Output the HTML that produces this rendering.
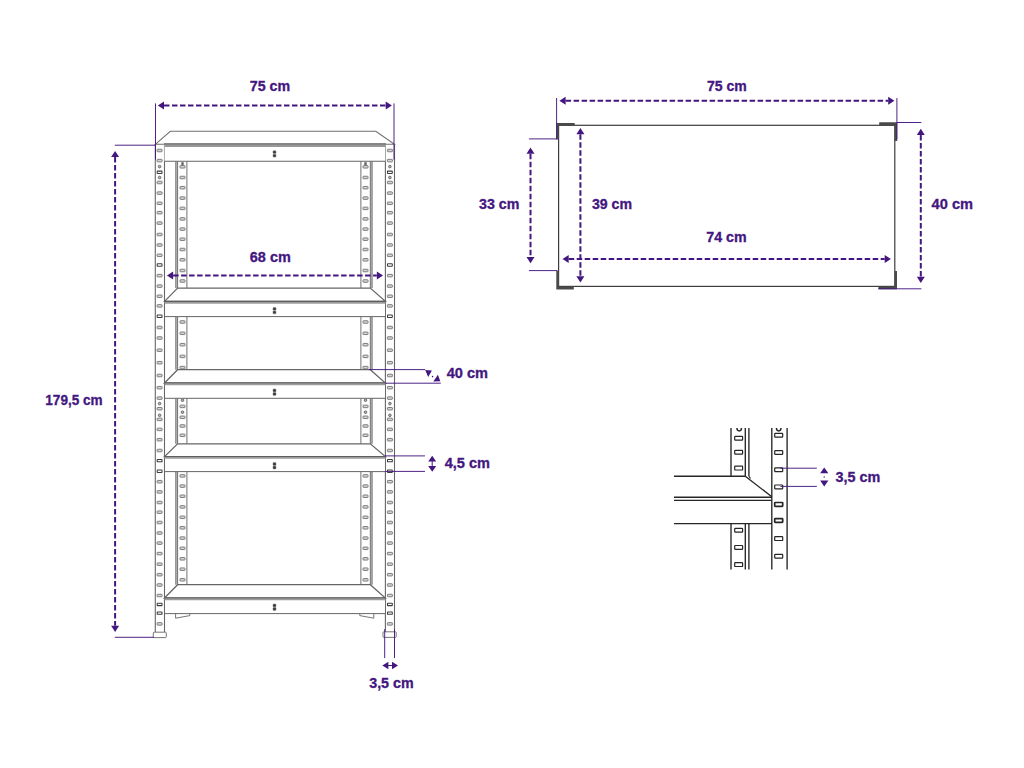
<!DOCTYPE html>
<html><head><meta charset="utf-8"><title>Shelf dimensions</title>
<style>
html,body{margin:0;padding:0;background:#fff;}
body{width:1024px;height:768px;overflow:hidden;font-family:"Liberation Sans",sans-serif;}
svg{display:block;}
svg text{font-family:"Liberation Sans",sans-serif;}
</style></head><body>
<svg width="1024" height="768" viewBox="0 0 1024 768">
<rect width="1024" height="768" fill="#fff"/>
<rect x="175.8" y="161.25" width="1.799999999999983" height="126.85000000000002" fill="#c4c4c4"/>
<rect x="370.3" y="161.25" width="1.8000000000000114" height="126.85000000000002" fill="#c4c4c4"/>
<line x1="175.8" y1="161.25" x2="175.8" y2="288.1" stroke="#707070" stroke-width="1.0" />
<line x1="177.6" y1="161.25" x2="177.6" y2="288.1" stroke="#707070" stroke-width="1.0" />
<line x1="186.9" y1="161.25" x2="186.9" y2="288.1" stroke="#707070" stroke-width="1.0" />
<line x1="360.9" y1="161.25" x2="360.9" y2="288.1" stroke="#707070" stroke-width="1.0" />
<line x1="370.3" y1="161.25" x2="370.3" y2="288.1" stroke="#707070" stroke-width="1.0" />
<line x1="372.1" y1="161.25" x2="372.1" y2="288.1" stroke="#707070" stroke-width="1.0" />
<rect x="175.8" y="316.6" width="1.799999999999983" height="53.099999999999966" fill="#c4c4c4"/>
<rect x="370.3" y="316.6" width="1.8000000000000114" height="53.099999999999966" fill="#c4c4c4"/>
<line x1="175.8" y1="316.6" x2="175.8" y2="369.7" stroke="#707070" stroke-width="1.0" />
<line x1="177.6" y1="316.6" x2="177.6" y2="369.7" stroke="#707070" stroke-width="1.0" />
<line x1="186.9" y1="316.6" x2="186.9" y2="369.7" stroke="#707070" stroke-width="1.0" />
<line x1="360.9" y1="316.6" x2="360.9" y2="369.7" stroke="#707070" stroke-width="1.0" />
<line x1="370.3" y1="316.6" x2="370.3" y2="369.7" stroke="#707070" stroke-width="1.0" />
<line x1="372.1" y1="316.6" x2="372.1" y2="369.7" stroke="#707070" stroke-width="1.0" />
<rect x="175.8" y="398.3" width="1.799999999999983" height="45.5" fill="#c4c4c4"/>
<rect x="370.3" y="398.3" width="1.8000000000000114" height="45.5" fill="#c4c4c4"/>
<line x1="175.8" y1="398.3" x2="175.8" y2="443.8" stroke="#707070" stroke-width="1.0" />
<line x1="177.6" y1="398.3" x2="177.6" y2="443.8" stroke="#707070" stroke-width="1.0" />
<line x1="186.9" y1="398.3" x2="186.9" y2="443.8" stroke="#707070" stroke-width="1.0" />
<line x1="360.9" y1="398.3" x2="360.9" y2="443.8" stroke="#707070" stroke-width="1.0" />
<line x1="370.3" y1="398.3" x2="370.3" y2="443.8" stroke="#707070" stroke-width="1.0" />
<line x1="372.1" y1="398.3" x2="372.1" y2="443.8" stroke="#707070" stroke-width="1.0" />
<rect x="175.8" y="471.6" width="1.799999999999983" height="113.10000000000002" fill="#c4c4c4"/>
<rect x="370.3" y="471.6" width="1.8000000000000114" height="113.10000000000002" fill="#c4c4c4"/>
<line x1="175.8" y1="471.6" x2="175.8" y2="584.7" stroke="#707070" stroke-width="1.0" />
<line x1="177.6" y1="471.6" x2="177.6" y2="584.7" stroke="#707070" stroke-width="1.0" />
<line x1="186.9" y1="471.6" x2="186.9" y2="584.7" stroke="#707070" stroke-width="1.0" />
<line x1="360.9" y1="471.6" x2="360.9" y2="584.7" stroke="#707070" stroke-width="1.0" />
<line x1="370.3" y1="471.6" x2="370.3" y2="584.7" stroke="#707070" stroke-width="1.0" />
<line x1="372.1" y1="471.6" x2="372.1" y2="584.7" stroke="#707070" stroke-width="1.0" />
<rect x="180.00" y="176.25" width="5.00" height="2.50" fill="#d6d6d6" stroke="#777" stroke-width="0.95" rx="0.5"/>
<rect x="363.00" y="176.25" width="5.00" height="2.50" fill="#d6d6d6" stroke="#777" stroke-width="0.95" rx="0.5"/>
<rect x="180.00" y="186.45" width="5.00" height="2.50" fill="#d6d6d6" stroke="#777" stroke-width="0.95" rx="0.5"/>
<rect x="363.00" y="186.45" width="5.00" height="2.50" fill="#d6d6d6" stroke="#777" stroke-width="0.95" rx="0.5"/>
<rect x="180.00" y="196.85" width="5.00" height="2.50" fill="#d6d6d6" stroke="#777" stroke-width="0.95" rx="0.5"/>
<rect x="363.00" y="196.85" width="5.00" height="2.50" fill="#d6d6d6" stroke="#777" stroke-width="0.95" rx="0.5"/>
<rect x="180.00" y="207.15" width="5.00" height="2.50" fill="#d6d6d6" stroke="#777" stroke-width="0.95" rx="0.5"/>
<rect x="363.00" y="207.15" width="5.00" height="2.50" fill="#d6d6d6" stroke="#777" stroke-width="0.95" rx="0.5"/>
<rect x="180.00" y="217.65" width="5.00" height="2.50" fill="#d6d6d6" stroke="#777" stroke-width="0.95" rx="0.5"/>
<rect x="363.00" y="217.65" width="5.00" height="2.50" fill="#d6d6d6" stroke="#777" stroke-width="0.95" rx="0.5"/>
<rect x="180.00" y="227.85" width="5.00" height="2.50" fill="#d6d6d6" stroke="#777" stroke-width="0.95" rx="0.5"/>
<rect x="363.00" y="227.85" width="5.00" height="2.50" fill="#d6d6d6" stroke="#777" stroke-width="0.95" rx="0.5"/>
<rect x="180.00" y="237.95" width="5.00" height="2.50" fill="#d6d6d6" stroke="#777" stroke-width="0.95" rx="0.5"/>
<rect x="363.00" y="237.95" width="5.00" height="2.50" fill="#d6d6d6" stroke="#777" stroke-width="0.95" rx="0.5"/>
<rect x="180.00" y="248.25" width="5.00" height="2.50" fill="#d6d6d6" stroke="#777" stroke-width="0.95" rx="0.5"/>
<rect x="363.00" y="248.25" width="5.00" height="2.50" fill="#d6d6d6" stroke="#777" stroke-width="0.95" rx="0.5"/>
<rect x="180.00" y="258.55" width="5.00" height="2.50" fill="#d6d6d6" stroke="#777" stroke-width="0.95" rx="0.5"/>
<rect x="363.00" y="258.55" width="5.00" height="2.50" fill="#d6d6d6" stroke="#777" stroke-width="0.95" rx="0.5"/>
<rect x="180.00" y="269.25" width="5.00" height="2.50" fill="#d6d6d6" stroke="#777" stroke-width="0.95" rx="0.5"/>
<rect x="363.00" y="269.25" width="5.00" height="2.50" fill="#d6d6d6" stroke="#777" stroke-width="0.95" rx="0.5"/>
<rect x="180.00" y="279.75" width="5.00" height="2.50" fill="#d6d6d6" stroke="#777" stroke-width="0.95" rx="0.5"/>
<rect x="363.00" y="279.75" width="5.00" height="2.50" fill="#d6d6d6" stroke="#777" stroke-width="0.95" rx="0.5"/>
<rect x="180.00" y="320.75" width="5.00" height="2.50" fill="#d6d6d6" stroke="#777" stroke-width="0.95" rx="0.5"/>
<rect x="363.00" y="320.75" width="5.00" height="2.50" fill="#d6d6d6" stroke="#777" stroke-width="0.95" rx="0.5"/>
<rect x="180.00" y="332.05" width="5.00" height="2.50" fill="#d6d6d6" stroke="#777" stroke-width="0.95" rx="0.5"/>
<rect x="363.00" y="332.05" width="5.00" height="2.50" fill="#d6d6d6" stroke="#777" stroke-width="0.95" rx="0.5"/>
<rect x="180.00" y="343.45" width="5.00" height="2.50" fill="#d6d6d6" stroke="#777" stroke-width="0.95" rx="0.5"/>
<rect x="363.00" y="343.45" width="5.00" height="2.50" fill="#d6d6d6" stroke="#777" stroke-width="0.95" rx="0.5"/>
<rect x="180.00" y="355.15" width="5.00" height="2.50" fill="#d6d6d6" stroke="#777" stroke-width="0.95" rx="0.5"/>
<rect x="363.00" y="355.15" width="5.00" height="2.50" fill="#d6d6d6" stroke="#777" stroke-width="0.95" rx="0.5"/>
<rect x="180.00" y="366.35" width="5.00" height="2.50" fill="#d6d6d6" stroke="#777" stroke-width="0.95" rx="0.5"/>
<rect x="363.00" y="366.35" width="5.00" height="2.50" fill="#d6d6d6" stroke="#777" stroke-width="0.95" rx="0.5"/>
<rect x="180.00" y="405.15" width="5.00" height="2.50" fill="#d6d6d6" stroke="#777" stroke-width="0.95" rx="0.5"/>
<rect x="363.00" y="405.15" width="5.00" height="2.50" fill="#d6d6d6" stroke="#777" stroke-width="0.95" rx="0.5"/>
<rect x="180.00" y="416.05" width="5.00" height="2.50" fill="#d6d6d6" stroke="#777" stroke-width="0.95" rx="0.5"/>
<rect x="363.00" y="416.05" width="5.00" height="2.50" fill="#d6d6d6" stroke="#777" stroke-width="0.95" rx="0.5"/>
<rect x="180.00" y="424.75" width="5.00" height="2.50" fill="#d6d6d6" stroke="#777" stroke-width="0.95" rx="0.5"/>
<rect x="363.00" y="424.75" width="5.00" height="2.50" fill="#d6d6d6" stroke="#777" stroke-width="0.95" rx="0.5"/>
<rect x="180.00" y="434.05" width="5.00" height="2.50" fill="#d6d6d6" stroke="#777" stroke-width="0.95" rx="0.5"/>
<rect x="363.00" y="434.05" width="5.00" height="2.50" fill="#d6d6d6" stroke="#777" stroke-width="0.95" rx="0.5"/>
<rect x="180.00" y="474.65" width="5.00" height="2.50" fill="#d6d6d6" stroke="#777" stroke-width="0.95" rx="0.5"/>
<rect x="363.00" y="474.65" width="5.00" height="2.50" fill="#d6d6d6" stroke="#777" stroke-width="0.95" rx="0.5"/>
<rect x="180.00" y="484.85" width="5.00" height="2.50" fill="#d6d6d6" stroke="#777" stroke-width="0.95" rx="0.5"/>
<rect x="363.00" y="484.85" width="5.00" height="2.50" fill="#d6d6d6" stroke="#777" stroke-width="0.95" rx="0.5"/>
<rect x="180.00" y="495.00" width="5.00" height="2.50" fill="#d6d6d6" stroke="#777" stroke-width="0.95" rx="0.5"/>
<rect x="363.00" y="495.00" width="5.00" height="2.50" fill="#d6d6d6" stroke="#777" stroke-width="0.95" rx="0.5"/>
<rect x="180.00" y="505.65" width="5.00" height="2.50" fill="#d6d6d6" stroke="#777" stroke-width="0.95" rx="0.5"/>
<rect x="363.00" y="505.65" width="5.00" height="2.50" fill="#d6d6d6" stroke="#777" stroke-width="0.95" rx="0.5"/>
<rect x="180.00" y="516.05" width="5.00" height="2.50" fill="#d6d6d6" stroke="#777" stroke-width="0.95" rx="0.5"/>
<rect x="363.00" y="516.05" width="5.00" height="2.50" fill="#d6d6d6" stroke="#777" stroke-width="0.95" rx="0.5"/>
<rect x="180.00" y="526.55" width="5.00" height="2.50" fill="#d6d6d6" stroke="#777" stroke-width="0.95" rx="0.5"/>
<rect x="363.00" y="526.55" width="5.00" height="2.50" fill="#d6d6d6" stroke="#777" stroke-width="0.95" rx="0.5"/>
<rect x="180.00" y="536.85" width="5.00" height="2.50" fill="#d6d6d6" stroke="#777" stroke-width="0.95" rx="0.5"/>
<rect x="363.00" y="536.85" width="5.00" height="2.50" fill="#d6d6d6" stroke="#777" stroke-width="0.95" rx="0.5"/>
<rect x="180.00" y="547.05" width="5.00" height="2.50" fill="#d6d6d6" stroke="#777" stroke-width="0.95" rx="0.5"/>
<rect x="363.00" y="547.05" width="5.00" height="2.50" fill="#d6d6d6" stroke="#777" stroke-width="0.95" rx="0.5"/>
<rect x="180.00" y="557.55" width="5.00" height="2.50" fill="#d6d6d6" stroke="#777" stroke-width="0.95" rx="0.5"/>
<rect x="363.00" y="557.55" width="5.00" height="2.50" fill="#d6d6d6" stroke="#777" stroke-width="0.95" rx="0.5"/>
<rect x="180.00" y="567.95" width="5.00" height="2.50" fill="#d6d6d6" stroke="#777" stroke-width="0.95" rx="0.5"/>
<rect x="363.00" y="567.95" width="5.00" height="2.50" fill="#d6d6d6" stroke="#777" stroke-width="0.95" rx="0.5"/>
<rect x="180.00" y="578.55" width="5.00" height="2.50" fill="#d6d6d6" stroke="#777" stroke-width="0.95" rx="0.5"/>
<rect x="363.00" y="578.55" width="5.00" height="2.50" fill="#d6d6d6" stroke="#777" stroke-width="0.95" rx="0.5"/>
<circle cx="182.5" cy="400.2" r="1.3" fill="#b5b5b5" stroke="#5a5a5a" stroke-width="0.85"/>
<circle cx="365.5" cy="400.2" r="1.3" fill="#b5b5b5" stroke="#5a5a5a" stroke-width="0.85"/>
<circle cx="182.5" cy="412.2" r="1.3" fill="#b5b5b5" stroke="#5a5a5a" stroke-width="0.85"/>
<circle cx="365.5" cy="412.2" r="1.3" fill="#b5b5b5" stroke="#5a5a5a" stroke-width="0.85"/>
<rect x="180.00" y="165.55" width="5.00" height="2.50" fill="#d6d6d6" stroke="#777" stroke-width="0.95" rx="0.5"/>
<rect x="181.50" y="162.30" width="2.00" height="2.60" fill="#666" stroke="#666" stroke-width="0.4" rx="0.5"/>
<rect x="363.00" y="165.55" width="5.00" height="2.50" fill="#d6d6d6" stroke="#777" stroke-width="0.95" rx="0.5"/>
<rect x="364.50" y="162.30" width="2.00" height="2.60" fill="#666" stroke="#666" stroke-width="0.4" rx="0.5"/>
<line x1="155.3" y1="145.0" x2="155.3" y2="632.0" stroke="#666" stroke-width="1.1" />
<line x1="164.5" y1="145.0" x2="164.5" y2="632.0" stroke="#666" stroke-width="1.1" />
<line x1="385.4" y1="145.0" x2="385.4" y2="632.0" stroke="#666" stroke-width="1.1" />
<line x1="394.5" y1="145.0" x2="394.5" y2="632.0" stroke="#666" stroke-width="1.1" />
<rect x="157.10" y="149.25" width="5.00" height="2.50" fill="#d6d6d6" stroke="#777" stroke-width="0.95" rx="0.5"/>
<rect x="387.40" y="149.25" width="5.00" height="2.50" fill="#d6d6d6" stroke="#777" stroke-width="0.95" rx="0.5"/>
<rect x="157.10" y="159.35" width="5.00" height="2.50" fill="#d6d6d6" stroke="#777" stroke-width="0.95" rx="0.5"/>
<rect x="387.40" y="159.35" width="5.00" height="2.50" fill="#d6d6d6" stroke="#777" stroke-width="0.95" rx="0.5"/>
<rect x="157.10" y="181.25" width="5.00" height="2.50" fill="#d6d6d6" stroke="#777" stroke-width="0.95" rx="0.5"/>
<rect x="387.40" y="181.25" width="5.00" height="2.50" fill="#d6d6d6" stroke="#777" stroke-width="0.95" rx="0.5"/>
<rect x="157.10" y="191.85" width="5.00" height="2.50" fill="#d6d6d6" stroke="#777" stroke-width="0.95" rx="0.5"/>
<rect x="387.40" y="191.85" width="5.00" height="2.50" fill="#d6d6d6" stroke="#777" stroke-width="0.95" rx="0.5"/>
<rect x="157.10" y="202.05" width="5.00" height="2.50" fill="#d6d6d6" stroke="#777" stroke-width="0.95" rx="0.5"/>
<rect x="387.40" y="202.05" width="5.00" height="2.50" fill="#d6d6d6" stroke="#777" stroke-width="0.95" rx="0.5"/>
<rect x="157.10" y="211.45" width="5.00" height="2.50" fill="#d6d6d6" stroke="#777" stroke-width="0.95" rx="0.5"/>
<rect x="387.40" y="211.45" width="5.00" height="2.50" fill="#d6d6d6" stroke="#777" stroke-width="0.95" rx="0.5"/>
<rect x="157.10" y="221.85" width="5.00" height="2.50" fill="#d6d6d6" stroke="#777" stroke-width="0.95" rx="0.5"/>
<rect x="387.40" y="221.85" width="5.00" height="2.50" fill="#d6d6d6" stroke="#777" stroke-width="0.95" rx="0.5"/>
<rect x="157.10" y="233.25" width="5.00" height="2.50" fill="#d6d6d6" stroke="#777" stroke-width="0.95" rx="0.5"/>
<rect x="387.40" y="233.25" width="5.00" height="2.50" fill="#d6d6d6" stroke="#777" stroke-width="0.95" rx="0.5"/>
<rect x="157.10" y="243.75" width="5.00" height="2.50" fill="#d6d6d6" stroke="#777" stroke-width="0.95" rx="0.5"/>
<rect x="387.40" y="243.75" width="5.00" height="2.50" fill="#d6d6d6" stroke="#777" stroke-width="0.95" rx="0.5"/>
<rect x="157.10" y="254.05" width="5.00" height="2.50" fill="#d6d6d6" stroke="#777" stroke-width="0.95" rx="0.5"/>
<rect x="387.40" y="254.05" width="5.00" height="2.50" fill="#d6d6d6" stroke="#777" stroke-width="0.95" rx="0.5"/>
<rect x="157.10" y="274.35" width="5.00" height="2.50" fill="#d6d6d6" stroke="#777" stroke-width="0.95" rx="0.5"/>
<rect x="387.40" y="274.35" width="5.00" height="2.50" fill="#d6d6d6" stroke="#777" stroke-width="0.95" rx="0.5"/>
<rect x="157.10" y="284.85" width="5.00" height="2.50" fill="#d6d6d6" stroke="#777" stroke-width="0.95" rx="0.5"/>
<rect x="387.40" y="284.85" width="5.00" height="2.50" fill="#d6d6d6" stroke="#777" stroke-width="0.95" rx="0.5"/>
<rect x="157.10" y="295.00" width="5.00" height="2.50" fill="#d6d6d6" stroke="#777" stroke-width="0.95" rx="0.5"/>
<rect x="387.40" y="295.00" width="5.00" height="2.50" fill="#d6d6d6" stroke="#777" stroke-width="0.95" rx="0.5"/>
<rect x="157.10" y="304.65" width="5.00" height="2.50" fill="#d6d6d6" stroke="#777" stroke-width="0.95" rx="0.5"/>
<rect x="387.40" y="304.65" width="5.00" height="2.50" fill="#d6d6d6" stroke="#777" stroke-width="0.95" rx="0.5"/>
<rect x="157.10" y="326.25" width="5.00" height="2.50" fill="#d6d6d6" stroke="#777" stroke-width="0.95" rx="0.5"/>
<rect x="387.40" y="326.25" width="5.00" height="2.50" fill="#d6d6d6" stroke="#777" stroke-width="0.95" rx="0.5"/>
<rect x="157.10" y="336.75" width="5.00" height="2.50" fill="#d6d6d6" stroke="#777" stroke-width="0.95" rx="0.5"/>
<rect x="387.40" y="336.75" width="5.00" height="2.50" fill="#d6d6d6" stroke="#777" stroke-width="0.95" rx="0.5"/>
<rect x="157.10" y="348.95" width="5.00" height="2.50" fill="#d6d6d6" stroke="#777" stroke-width="0.95" rx="0.5"/>
<rect x="387.40" y="348.95" width="5.00" height="2.50" fill="#d6d6d6" stroke="#777" stroke-width="0.95" rx="0.5"/>
<rect x="157.10" y="361.45" width="5.00" height="2.50" fill="#d6d6d6" stroke="#777" stroke-width="0.95" rx="0.5"/>
<rect x="387.40" y="361.45" width="5.00" height="2.50" fill="#d6d6d6" stroke="#777" stroke-width="0.95" rx="0.5"/>
<rect x="157.10" y="374.25" width="5.00" height="2.50" fill="#d6d6d6" stroke="#777" stroke-width="0.95" rx="0.5"/>
<rect x="387.40" y="374.25" width="5.00" height="2.50" fill="#d6d6d6" stroke="#777" stroke-width="0.95" rx="0.5"/>
<rect x="157.10" y="386.45" width="5.00" height="2.50" fill="#d6d6d6" stroke="#777" stroke-width="0.95" rx="0.5"/>
<rect x="387.40" y="386.45" width="5.00" height="2.50" fill="#d6d6d6" stroke="#777" stroke-width="0.95" rx="0.5"/>
<rect x="157.10" y="396.85" width="5.00" height="2.50" fill="#d6d6d6" stroke="#777" stroke-width="0.95" rx="0.5"/>
<rect x="387.40" y="396.85" width="5.00" height="2.50" fill="#d6d6d6" stroke="#777" stroke-width="0.95" rx="0.5"/>
<rect x="157.10" y="407.50" width="5.00" height="2.50" fill="#d6d6d6" stroke="#777" stroke-width="0.95" rx="0.5"/>
<rect x="387.40" y="407.50" width="5.00" height="2.50" fill="#d6d6d6" stroke="#777" stroke-width="0.95" rx="0.5"/>
<rect x="157.10" y="418.15" width="5.00" height="2.50" fill="#d6d6d6" stroke="#777" stroke-width="0.95" rx="0.5"/>
<rect x="387.40" y="418.15" width="5.00" height="2.50" fill="#d6d6d6" stroke="#777" stroke-width="0.95" rx="0.5"/>
<rect x="157.10" y="428.15" width="5.00" height="2.50" fill="#d6d6d6" stroke="#777" stroke-width="0.95" rx="0.5"/>
<rect x="387.40" y="428.15" width="5.00" height="2.50" fill="#d6d6d6" stroke="#777" stroke-width="0.95" rx="0.5"/>
<rect x="157.10" y="438.45" width="5.00" height="2.50" fill="#d6d6d6" stroke="#777" stroke-width="0.95" rx="0.5"/>
<rect x="387.40" y="438.45" width="5.00" height="2.50" fill="#d6d6d6" stroke="#777" stroke-width="0.95" rx="0.5"/>
<rect x="157.10" y="449.25" width="5.00" height="2.50" fill="#d6d6d6" stroke="#777" stroke-width="0.95" rx="0.5"/>
<rect x="387.40" y="449.25" width="5.00" height="2.50" fill="#d6d6d6" stroke="#777" stroke-width="0.95" rx="0.5"/>
<rect x="157.10" y="480.45" width="5.00" height="2.50" fill="#d6d6d6" stroke="#777" stroke-width="0.95" rx="0.5"/>
<rect x="387.40" y="480.45" width="5.00" height="2.50" fill="#d6d6d6" stroke="#777" stroke-width="0.95" rx="0.5"/>
<rect x="157.10" y="490.65" width="5.00" height="2.50" fill="#d6d6d6" stroke="#777" stroke-width="0.95" rx="0.5"/>
<rect x="387.40" y="490.65" width="5.00" height="2.50" fill="#d6d6d6" stroke="#777" stroke-width="0.95" rx="0.5"/>
<rect x="157.10" y="501.25" width="5.00" height="2.50" fill="#d6d6d6" stroke="#777" stroke-width="0.95" rx="0.5"/>
<rect x="387.40" y="501.25" width="5.00" height="2.50" fill="#d6d6d6" stroke="#777" stroke-width="0.95" rx="0.5"/>
<rect x="157.10" y="510.95" width="5.00" height="2.50" fill="#d6d6d6" stroke="#777" stroke-width="0.95" rx="0.5"/>
<rect x="387.40" y="510.95" width="5.00" height="2.50" fill="#d6d6d6" stroke="#777" stroke-width="0.95" rx="0.5"/>
<rect x="157.10" y="521.25" width="5.00" height="2.50" fill="#d6d6d6" stroke="#777" stroke-width="0.95" rx="0.5"/>
<rect x="387.40" y="521.25" width="5.00" height="2.50" fill="#d6d6d6" stroke="#777" stroke-width="0.95" rx="0.5"/>
<rect x="157.10" y="531.75" width="5.00" height="2.50" fill="#d6d6d6" stroke="#777" stroke-width="0.95" rx="0.5"/>
<rect x="387.40" y="531.75" width="5.00" height="2.50" fill="#d6d6d6" stroke="#777" stroke-width="0.95" rx="0.5"/>
<rect x="157.10" y="541.85" width="5.00" height="2.50" fill="#d6d6d6" stroke="#777" stroke-width="0.95" rx="0.5"/>
<rect x="387.40" y="541.85" width="5.00" height="2.50" fill="#d6d6d6" stroke="#777" stroke-width="0.95" rx="0.5"/>
<rect x="157.10" y="552.35" width="5.00" height="2.50" fill="#d6d6d6" stroke="#777" stroke-width="0.95" rx="0.5"/>
<rect x="387.40" y="552.35" width="5.00" height="2.50" fill="#d6d6d6" stroke="#777" stroke-width="0.95" rx="0.5"/>
<rect x="157.10" y="562.95" width="5.00" height="2.50" fill="#d6d6d6" stroke="#777" stroke-width="0.95" rx="0.5"/>
<rect x="387.40" y="562.95" width="5.00" height="2.50" fill="#d6d6d6" stroke="#777" stroke-width="0.95" rx="0.5"/>
<rect x="157.10" y="573.45" width="5.00" height="2.50" fill="#d6d6d6" stroke="#777" stroke-width="0.95" rx="0.5"/>
<rect x="387.40" y="573.45" width="5.00" height="2.50" fill="#d6d6d6" stroke="#777" stroke-width="0.95" rx="0.5"/>
<rect x="157.10" y="583.75" width="5.00" height="2.50" fill="#d6d6d6" stroke="#777" stroke-width="0.95" rx="0.5"/>
<rect x="387.40" y="583.75" width="5.00" height="2.50" fill="#d6d6d6" stroke="#777" stroke-width="0.95" rx="0.5"/>
<rect x="157.10" y="594.25" width="5.00" height="2.50" fill="#d6d6d6" stroke="#777" stroke-width="0.95" rx="0.5"/>
<rect x="387.40" y="594.25" width="5.00" height="2.50" fill="#d6d6d6" stroke="#777" stroke-width="0.95" rx="0.5"/>
<rect x="157.10" y="622.65" width="5.00" height="2.50" fill="#d6d6d6" stroke="#777" stroke-width="0.95" rx="0.5"/>
<rect x="387.40" y="622.65" width="5.00" height="2.50" fill="#d6d6d6" stroke="#777" stroke-width="0.95" rx="0.5"/>
<rect x="157.20" y="171.10" width="4.80" height="2.40" fill="#fff" stroke="#3c3c3c" stroke-width="1.05" rx="0.4"/>
<rect x="387.50" y="171.10" width="4.80" height="2.40" fill="#fff" stroke="#3c3c3c" stroke-width="1.05" rx="0.4"/>
<rect x="157.20" y="263.80" width="4.80" height="2.40" fill="#fff" stroke="#3c3c3c" stroke-width="1.05" rx="0.4"/>
<rect x="387.50" y="263.80" width="4.80" height="2.40" fill="#fff" stroke="#3c3c3c" stroke-width="1.05" rx="0.4"/>
<rect x="157.20" y="315.05" width="4.80" height="2.40" fill="#fff" stroke="#3c3c3c" stroke-width="1.05" rx="0.4"/>
<rect x="387.50" y="315.05" width="4.80" height="2.40" fill="#fff" stroke="#3c3c3c" stroke-width="1.05" rx="0.4"/>
<rect x="157.20" y="459.40" width="4.80" height="2.40" fill="#fff" stroke="#3c3c3c" stroke-width="1.05" rx="0.4"/>
<rect x="387.50" y="459.40" width="4.80" height="2.40" fill="#fff" stroke="#3c3c3c" stroke-width="1.05" rx="0.4"/>
<rect x="157.20" y="470.05" width="4.80" height="2.40" fill="#fff" stroke="#3c3c3c" stroke-width="1.05" rx="0.4"/>
<rect x="387.50" y="470.05" width="4.80" height="2.40" fill="#fff" stroke="#3c3c3c" stroke-width="1.05" rx="0.4"/>
<rect x="157.20" y="603.20" width="4.80" height="2.40" fill="#fff" stroke="#3c3c3c" stroke-width="1.05" rx="0.4"/>
<rect x="387.50" y="603.20" width="4.80" height="2.40" fill="#fff" stroke="#3c3c3c" stroke-width="1.05" rx="0.4"/>
<rect x="157.20" y="611.90" width="4.80" height="2.40" fill="#fff" stroke="#3c3c3c" stroke-width="1.05" rx="0.4"/>
<rect x="387.50" y="611.90" width="4.80" height="2.40" fill="#fff" stroke="#3c3c3c" stroke-width="1.05" rx="0.4"/>
<circle cx="159.6" cy="166.6" r="1.3" fill="#b5b5b5" stroke="#5a5a5a" stroke-width="0.85"/>
<circle cx="389.9" cy="166.6" r="1.3" fill="#b5b5b5" stroke="#5a5a5a" stroke-width="0.85"/>
<circle cx="159.6" cy="177.5" r="1.3" fill="#b5b5b5" stroke="#5a5a5a" stroke-width="0.85"/>
<circle cx="389.9" cy="177.5" r="1.3" fill="#b5b5b5" stroke="#5a5a5a" stroke-width="0.85"/>
<circle cx="159.6" cy="403.6" r="1.3" fill="#b5b5b5" stroke="#5a5a5a" stroke-width="0.85"/>
<circle cx="389.9" cy="403.6" r="1.3" fill="#b5b5b5" stroke="#5a5a5a" stroke-width="0.85"/>
<circle cx="159.6" cy="415.3" r="1.3" fill="#b5b5b5" stroke="#5a5a5a" stroke-width="0.85"/>
<circle cx="389.9" cy="415.3" r="1.3" fill="#b5b5b5" stroke="#5a5a5a" stroke-width="0.85"/>
<polygon points="155.30,144.30 170.30,131.25 375.80,131.25 394.50,144.30" fill="#fff" stroke="#707070" stroke-width="1.05"/>
<rect x="164.5" y="144.7" width="220.89999999999998" height="16.55000000000001" fill="#fff"/>
<line x1="164.5" y1="145.6" x2="385.4" y2="145.6" stroke="#979797" stroke-width="2.6" />
<line x1="164.0" y1="143.79999999999998" x2="385.9" y2="143.79999999999998" stroke="#6a6a6a" stroke-width="1.2" />
<line x1="164.5" y1="161.25" x2="385.4" y2="161.25" stroke="#666" stroke-width="1" />
<rect x="273.00" y="150.70" width="3.00" height="2.90" fill="#3a3a3a" stroke="#777" stroke-width="0.5" rx="0.8"/>
<rect x="273.00" y="154.20" width="3.00" height="2.90" fill="#3a3a3a" stroke="#777" stroke-width="0.5" rx="0.8"/>
<polygon points="164.50,301.40 177.60,288.10 370.30,288.10 385.40,301.40" fill="#fff" stroke="#666" stroke-width="1.25"/>
<rect x="165.0" y="301.4" width="219.89999999999998" height="15.200000000000045" fill="#fff"/>
<line x1="164.5" y1="302.7" x2="385.4" y2="302.7" stroke="#9c9c9c" stroke-width="1.9" />
<line x1="164.5" y1="301.29999999999995" x2="385.4" y2="301.29999999999995" stroke="#5e5e5e" stroke-width="1.2" />
<line x1="164.5" y1="316.6" x2="385.4" y2="316.6" stroke="#666" stroke-width="1" />
<rect x="273.00" y="307.40" width="3.00" height="2.90" fill="#3a3a3a" stroke="#777" stroke-width="0.5" rx="0.8"/>
<rect x="273.00" y="310.90" width="3.00" height="2.90" fill="#3a3a3a" stroke="#777" stroke-width="0.5" rx="0.8"/>
<polygon points="164.50,383.00 177.60,369.70 370.30,369.70 385.40,383.00" fill="#fff" stroke="#666" stroke-width="1.25"/>
<rect x="165.0" y="383.0" width="219.89999999999998" height="15.300000000000011" fill="#fff"/>
<line x1="164.5" y1="384.3" x2="385.4" y2="384.3" stroke="#9c9c9c" stroke-width="1.9" />
<line x1="164.5" y1="382.9" x2="385.4" y2="382.9" stroke="#5e5e5e" stroke-width="1.2" />
<line x1="164.5" y1="398.3" x2="385.4" y2="398.3" stroke="#666" stroke-width="1" />
<rect x="273.00" y="389.00" width="3.00" height="2.90" fill="#3a3a3a" stroke="#777" stroke-width="0.5" rx="0.8"/>
<rect x="273.00" y="392.50" width="3.00" height="2.90" fill="#3a3a3a" stroke="#777" stroke-width="0.5" rx="0.8"/>
<polygon points="164.50,456.60 177.60,443.80 370.30,443.80 385.40,456.60" fill="#fff" stroke="#666" stroke-width="1.25"/>
<rect x="165.0" y="456.6" width="219.89999999999998" height="15.0" fill="#fff"/>
<line x1="164.5" y1="457.90000000000003" x2="385.4" y2="457.90000000000003" stroke="#9c9c9c" stroke-width="1.9" />
<line x1="164.5" y1="456.5" x2="385.4" y2="456.5" stroke="#5e5e5e" stroke-width="1.2" />
<line x1="164.5" y1="471.6" x2="385.4" y2="471.6" stroke="#666" stroke-width="1" />
<rect x="273.00" y="462.60" width="3.00" height="2.90" fill="#3a3a3a" stroke="#777" stroke-width="0.5" rx="0.8"/>
<rect x="273.00" y="466.10" width="3.00" height="2.90" fill="#3a3a3a" stroke="#777" stroke-width="0.5" rx="0.8"/>
<polygon points="164.50,598.00 177.60,584.70 370.30,584.70 385.40,598.00" fill="#fff" stroke="#666" stroke-width="1.25"/>
<rect x="165.0" y="598.0" width="219.89999999999998" height="15.600000000000023" fill="#fff"/>
<line x1="164.5" y1="599.3" x2="385.4" y2="599.3" stroke="#9c9c9c" stroke-width="1.9" />
<line x1="164.5" y1="597.9" x2="385.4" y2="597.9" stroke="#5e5e5e" stroke-width="1.2" />
<line x1="164.5" y1="613.6" x2="385.4" y2="613.6" stroke="#666" stroke-width="1" />
<rect x="273.00" y="604.00" width="3.00" height="2.90" fill="#3a3a3a" stroke="#777" stroke-width="0.5" rx="0.8"/>
<rect x="273.00" y="607.50" width="3.00" height="2.90" fill="#3a3a3a" stroke="#777" stroke-width="0.5" rx="0.8"/>
<polygon points="175.60,613.60 175.60,618.20 189.80,615.60 189.80,613.60" fill="#fff" stroke="#666" stroke-width="0.9"/>
<polygon points="373.80,613.60 373.80,618.20 359.80,615.60 359.80,613.60" fill="#fff" stroke="#666" stroke-width="0.9"/>
<rect x="153.30" y="632.20" width="13.00" height="5.40" fill="#fff" stroke="#666" stroke-width="0.9" rx="0.8"/>
<rect x="383.00" y="631.80" width="13.20" height="5.60" fill="#fff" stroke="#666" stroke-width="0.9" rx="0.8"/>
<line x1="155.5" y1="103.4" x2="155.5" y2="159.6" stroke="#43177f" stroke-width="0.95" />
<line x1="394.0" y1="103.4" x2="394.0" y2="159.6" stroke="#43177f" stroke-width="0.95" />
<polygon points="157.80,105.50 164.00,101.50 164.00,109.50" fill="#43177f" stroke="none" stroke-width="0"/>
<polygon points="391.90,105.50 385.70,101.50 385.70,109.50" fill="#43177f" stroke="none" stroke-width="0"/>
<line x1="164.0" y1="105.5" x2="385.7" y2="105.5" stroke="#43177f" stroke-width="2.0" stroke-dasharray="5.5 2.5"/>
<text x="270" y="90.9" font-size="13.8" font-weight="bold" fill="#43177f" stroke="#43177f" stroke-width="0.3" textLength="40.3" lengthAdjust="spacingAndGlyphs" text-anchor="middle">75 cm</text>
<line x1="114.8" y1="145.2" x2="155.5" y2="145.2" stroke="#43177f" stroke-width="0.95" />
<line x1="114.8" y1="637.3" x2="154" y2="637.3" stroke="#43177f" stroke-width="0.95" />
<polygon points="115.10,150.90 111.10,157.10 119.10,157.10" fill="#43177f" stroke="none" stroke-width="0"/>
<polygon points="115.10,631.90 111.10,625.70 119.10,625.70" fill="#43177f" stroke="none" stroke-width="0"/>
<line x1="115.1" y1="157.1" x2="115.1" y2="625.6999999999999" stroke="#43177f" stroke-width="2.0" stroke-dasharray="5.5 2.5"/>
<text x="45.3" y="404.8" font-size="13.8" font-weight="bold" fill="#43177f" stroke="#43177f" stroke-width="0.3" textLength="57.4" lengthAdjust="spacingAndGlyphs" text-anchor="start">179,5 cm</text>
<polygon points="166.90,275.60 173.10,271.60 173.10,279.60" fill="#43177f" stroke="none" stroke-width="0"/>
<polygon points="383.00,275.60 376.80,271.60 376.80,279.60" fill="#43177f" stroke="none" stroke-width="0"/>
<line x1="173.1" y1="275.6" x2="376.8" y2="275.6" stroke="#43177f" stroke-width="2.0" stroke-dasharray="5.5 2.5"/>
<text x="270.3" y="261.6" font-size="13.8" font-weight="bold" fill="#43177f" stroke="#43177f" stroke-width="0.3" textLength="41" lengthAdjust="spacingAndGlyphs" text-anchor="middle">68 cm</text>
<line x1="368.9" y1="369.6" x2="425.2" y2="369.6" stroke="#43177f" stroke-width="0.95" />
<line x1="385.3" y1="383.2" x2="440.8" y2="383.2" stroke="#43177f" stroke-width="0.95" />
<polygon points="425.20,370.10 431.90,370.50 428.20,377.00" fill="#43177f" stroke="none" stroke-width="0"/>
<polygon points="433.30,381.60 440.30,381.20 437.90,374.70" fill="#43177f" stroke="none" stroke-width="0"/>
<circle cx="432.6" cy="376.6" r="0.8" fill="#43177f"/>
<text x="446.7" y="377.6" font-size="13.8" font-weight="bold" fill="#43177f" stroke="#43177f" stroke-width="0.3" textLength="41.3" lengthAdjust="spacingAndGlyphs" text-anchor="start">40 cm</text>
<line x1="385" y1="455.9" x2="425" y2="455.9" stroke="#43177f" stroke-width="0.95" />
<line x1="385" y1="471.4" x2="425" y2="471.4" stroke="#43177f" stroke-width="0.95" />
<polygon points="432.20,455.80 428.20,461.50 436.20,461.50" fill="#43177f" stroke="none" stroke-width="0"/>
<polygon points="432.20,471.80 428.20,466.00 436.20,466.00" fill="#43177f" stroke="none" stroke-width="0"/>
<line x1="432.2" y1="461" x2="432.2" y2="466" stroke="#43177f" stroke-width="1" />
<text x="444.7" y="467.6" font-size="13.8" font-weight="bold" fill="#43177f" stroke="#43177f" stroke-width="0.3" textLength="45.3" lengthAdjust="spacingAndGlyphs" text-anchor="start">4,5 cm</text>
<line x1="384.7" y1="629.2" x2="384.7" y2="658.1" stroke="#43177f" stroke-width="0.95" />
<line x1="394.5" y1="629.2" x2="394.5" y2="658.1" stroke="#43177f" stroke-width="0.95" />
<polygon points="382.30,665.50 388.40,661.80 388.40,669.20" fill="#43177f" stroke="none" stroke-width="0"/>
<polygon points="398.00,665.50 392.00,661.80 392.00,669.20" fill="#43177f" stroke="none" stroke-width="0"/>
<line x1="388" y1="665.5" x2="392.4" y2="665.5" stroke="#43177f" stroke-width="1" />
<text x="369.2" y="687.5" font-size="13.8" font-weight="bold" fill="#43177f" stroke="#43177f" stroke-width="0.3" textLength="44.5" lengthAdjust="spacingAndGlyphs" text-anchor="start">3,5 cm</text>
<rect x="558.60" y="125.30" width="336.20" height="161.10" fill="none" stroke="#3c3c3c" stroke-width="1.2" rx="0"/>
<path d="M556.4,139.4 V123.0 H574.7 V125.6 H558.8 V139.4 Z" fill="#4a4a4a"/>
<path d="M879.2,122.2 H897.2 V141.0 H894.6 V125.5 H879.2 Z" fill="#4a4a4a"/>
<path d="M556.3,270.6 V289.4 H573.8 V286.4 H558.8 V270.6 Z" fill="#4a4a4a"/>
<path d="M894.6,271.0 H897.0 V289.2 H878.4 V286.4 H894.6 Z" fill="#4a4a4a"/>
<line x1="556.6" y1="98" x2="556.6" y2="139.4" stroke="#43177f" stroke-width="0.95" />
<line x1="896.9" y1="98" x2="896.9" y2="139.4" stroke="#43177f" stroke-width="0.95" />
<polygon points="559.40,100.80 565.60,96.80 565.60,104.80" fill="#43177f" stroke="none" stroke-width="0"/>
<polygon points="894.40,100.80 888.20,96.80 888.20,104.80" fill="#43177f" stroke="none" stroke-width="0"/>
<line x1="565.6" y1="100.8" x2="888.1999999999999" y2="100.8" stroke="#43177f" stroke-width="2.0" stroke-dasharray="5.5 2.5"/>
<text x="726.8" y="90.8" font-size="13.8" font-weight="bold" fill="#43177f" stroke="#43177f" stroke-width="0.3" textLength="39.8" lengthAdjust="spacingAndGlyphs" text-anchor="middle">75 cm</text>
<line x1="528.9" y1="138.9" x2="556.6" y2="138.9" stroke="#43177f" stroke-width="0.95" />
<line x1="528.9" y1="270.6" x2="557.0" y2="270.6" stroke="#43177f" stroke-width="0.95" />
<polygon points="530.50,147.50 526.50,153.70 534.50,153.70" fill="#43177f" stroke="none" stroke-width="0"/>
<polygon points="530.50,263.30 526.50,257.10 534.50,257.10" fill="#43177f" stroke="none" stroke-width="0"/>
<line x1="530.5" y1="153.7" x2="530.5" y2="257.1" stroke="#43177f" stroke-width="2.0" stroke-dasharray="5.5 2.5"/>
<text x="479" y="208.6" font-size="13.8" font-weight="bold" fill="#43177f" stroke="#43177f" stroke-width="0.3" textLength="40.4" lengthAdjust="spacingAndGlyphs" text-anchor="start">33 cm</text>
<polygon points="580.40,128.10 576.40,134.30 584.40,134.30" fill="#43177f" stroke="none" stroke-width="0"/>
<polygon points="580.40,282.50 576.40,276.30 584.40,276.30" fill="#43177f" stroke="none" stroke-width="0"/>
<line x1="580.4" y1="134.29999999999998" x2="580.4" y2="276.3" stroke="#43177f" stroke-width="2.0" stroke-dasharray="5.5 2.5"/>
<text x="591.9" y="208.6" font-size="13.8" font-weight="bold" fill="#43177f" stroke="#43177f" stroke-width="0.3" textLength="40.1" lengthAdjust="spacingAndGlyphs" text-anchor="start">39 cm</text>
<polygon points="562.50,258.90 568.70,254.90 568.70,262.90" fill="#43177f" stroke="none" stroke-width="0"/>
<polygon points="890.90,258.90 884.70,254.90 884.70,262.90" fill="#43177f" stroke="none" stroke-width="0"/>
<line x1="568.7" y1="258.9" x2="884.6999999999999" y2="258.9" stroke="#43177f" stroke-width="2.0" stroke-dasharray="5.5 2.5"/>
<text x="726.5" y="241.9" font-size="13.8" font-weight="bold" fill="#43177f" stroke="#43177f" stroke-width="0.3" textLength="40.3" lengthAdjust="spacingAndGlyphs" text-anchor="middle">74 cm</text>
<line x1="896.9" y1="122.5" x2="921.4" y2="122.5" stroke="#43177f" stroke-width="0.95" />
<line x1="878.4" y1="288.8" x2="921.4" y2="288.8" stroke="#43177f" stroke-width="0.95" />
<polygon points="920.80,128.75 916.80,134.95 924.80,134.95" fill="#43177f" stroke="none" stroke-width="0"/>
<polygon points="920.80,283.00 916.80,276.80 924.80,276.80" fill="#43177f" stroke="none" stroke-width="0"/>
<line x1="920.8" y1="134.95" x2="920.8" y2="276.8" stroke="#43177f" stroke-width="2.0" stroke-dasharray="5.5 2.5"/>
<text x="931.6" y="208.75" font-size="13.8" font-weight="bold" fill="#43177f" stroke="#43177f" stroke-width="0.3" textLength="41.4" lengthAdjust="spacingAndGlyphs" text-anchor="start">40 cm</text>
<line x1="731.0" y1="427.9" x2="731.0" y2="476.25" stroke="#262626" stroke-width="1.35" />
<line x1="731.0" y1="523.6" x2="731.0" y2="569.5" stroke="#262626" stroke-width="1.35" />
<line x1="745.3" y1="427.9" x2="745.3" y2="476.25" stroke="#262626" stroke-width="1.35" />
<line x1="745.3" y1="523.6" x2="745.3" y2="569.5" stroke="#262626" stroke-width="1.35" />
<line x1="748.9" y1="427.9" x2="748.9" y2="476.25" stroke="#262626" stroke-width="1.35" />
<line x1="748.9" y1="523.6" x2="748.9" y2="569.5" stroke="#262626" stroke-width="1.35" />
<rect x="734.70" y="436.40" width="7.90" height="3.80" fill="none" stroke="#262626" stroke-width="1.2" rx="0.6"/>
<rect x="734.70" y="450.40" width="7.90" height="3.80" fill="none" stroke="#262626" stroke-width="1.2" rx="0.6"/>
<rect x="734.70" y="466.20" width="7.90" height="3.80" fill="none" stroke="#262626" stroke-width="1.2" rx="0.6"/>
<rect x="734.70" y="528.30" width="7.90" height="3.80" fill="none" stroke="#262626" stroke-width="1.2" rx="0.6"/>
<rect x="734.70" y="545.50" width="7.90" height="3.80" fill="none" stroke="#262626" stroke-width="1.2" rx="0.6"/>
<rect x="734.70" y="562.70" width="7.90" height="3.80" fill="none" stroke="#262626" stroke-width="1.2" rx="0.6"/>
<line x1="771.8" y1="427.9" x2="771.8" y2="569.5" stroke="#262626" stroke-width="1.35" />
<line x1="787.1" y1="427.9" x2="787.1" y2="569.5" stroke="#262626" stroke-width="1.35" />
<rect x="774.70" y="433.30" width="8.00" height="3.80" fill="none" stroke="#262626" stroke-width="1.2" rx="0.6"/>
<rect x="774.70" y="450.60" width="8.00" height="3.80" fill="none" stroke="#262626" stroke-width="1.2" rx="0.6"/>
<rect x="774.70" y="467.80" width="8.00" height="3.80" fill="none" stroke="#262626" stroke-width="1.2" rx="0.6"/>
<rect x="774.70" y="485.00" width="8.00" height="3.80" fill="none" stroke="#262626" stroke-width="1.2" rx="0.6"/>
<rect x="774.70" y="502.50" width="8.00" height="3.80" fill="none" stroke="#262626" stroke-width="1.7" rx="0.6"/>
<rect x="774.70" y="518.60" width="8.00" height="3.80" fill="none" stroke="#262626" stroke-width="1.7" rx="0.6"/>
<rect x="774.70" y="536.70" width="8.00" height="3.80" fill="none" stroke="#262626" stroke-width="1.2" rx="0.6"/>
<rect x="774.70" y="554.30" width="8.00" height="3.80" fill="none" stroke="#262626" stroke-width="1.2" rx="0.6"/>
<path d="M737.0,427.9 V428.6 a2.2,2.3 0 0 0 4.4,0 V427.9" fill="none" stroke="#262626" stroke-width="1.5"/>
<path d="M776.5,427.9 V428.6 a2.2,2.3 0 0 0 4.4,0 V427.9" fill="none" stroke="#262626" stroke-width="1.5"/>
<line x1="674" y1="476.25" x2="745.6" y2="476.25" stroke="#262626" stroke-width="1.35" />
<line x1="745.3" y1="476.25" x2="771.8" y2="496.8" stroke="#262626" stroke-width="1.35" />
<line x1="748.9" y1="476.25" x2="750.5" y2="478.5" stroke="#262626" stroke-width="1.2" />
<line x1="674" y1="497.2" x2="771.8" y2="497.2" stroke="#262626" stroke-width="1.35" />
<line x1="674" y1="500.3" x2="771.8" y2="500.3" stroke="#262626" stroke-width="1.35" />
<line x1="674" y1="523.6" x2="771.8" y2="523.6" stroke="#262626" stroke-width="1.35" />
<line x1="780.4" y1="468.2" x2="816.8" y2="468.2" stroke="#43177f" stroke-width="0.95" />
<line x1="780.4" y1="486.4" x2="816.8" y2="486.4" stroke="#43177f" stroke-width="0.95" />
<polygon points="824.20,467.60 820.20,473.30 828.40,473.30" fill="#43177f" stroke="none" stroke-width="0"/>
<polygon points="824.20,486.60 820.20,480.60 828.40,480.60" fill="#43177f" stroke="none" stroke-width="0"/>
<circle cx="824.2" cy="477" r="0.7" fill="#43177f"/>
<text x="835.5" y="482.4" font-size="13.8" font-weight="bold" fill="#43177f" stroke="#43177f" stroke-width="0.3" textLength="44.8" lengthAdjust="spacingAndGlyphs" text-anchor="start">3,5 cm</text>
</svg>
</body></html>
